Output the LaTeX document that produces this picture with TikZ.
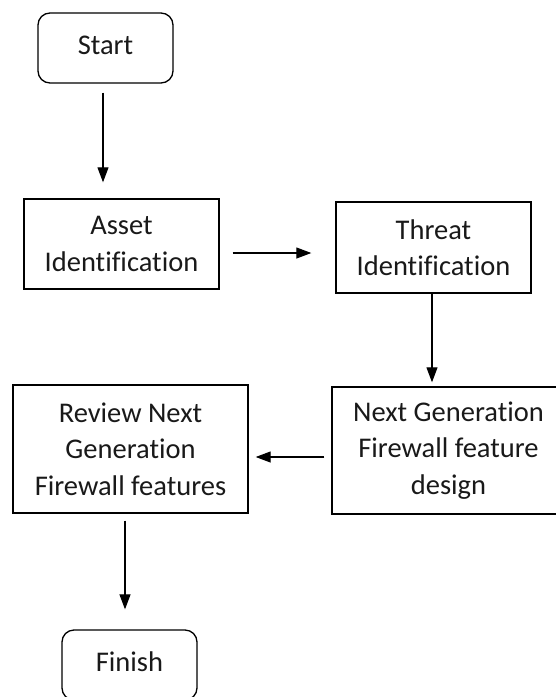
\documentclass[tikz,border=0pt]{standalone}
\usepackage{fontspec}
\setmainfont{Carlito}[Ligatures={NoCommon}]
\usetikzlibrary{arrows.meta}
\begin{document}
\begin{tikzpicture}[x=1pt,y=-1pt,
  every node/.style={font=\fontsize{28.5}{36.5}\selectfont, text=black!90, align=center, inner sep=0pt},
  procbox/.style={draw=black, line width=1.4pt, minimum width=#1, rectangle},
  termbox/.style={draw=black, line width=1.3pt, rounded corners=12pt, minimum width=135pt, minimum height=70pt},
  arr/.style={draw=black, line width=1.2pt, -{Triangle[length=15pt,width=11pt]}}
]
\useasboundingbox (0,0) rectangle (555,697);

% terminals
\node[termbox] (start) at (105.5,48) {\raisebox{5pt}{Start}};
\node[termbox] (finish) at (129.5,665) {\raisebox{7pt}{Finish}};

% process steps
\node[procbox=195pt, minimum height=90pt] (asset) at (121.5,244) {Asset\\Identification};
\node[procbox=195pt, minimum height=91pt] (threat) at (433.5,247.5) {Threat\\Identification};
\node[procbox=233pt, minimum height=127pt] (design) at (448.5,450.5) {Next Generation\\Firewall feature\\design};
\node[procbox=235pt, minimum height=128pt] (review) at (130.5,449) {Review Next\\Generation\\Firewall features};

% connectors
\draw[arr, shorten <=9pt, shorten >=16pt] ([xshift=-2.5pt]start.south) -- ([xshift=-2.5pt]start.south |- asset.north);
\draw[arr, shorten <=13pt, shorten >=24pt] ([yshift=-9pt]asset.east) -- ([yshift=-9pt]asset.east -| threat.west);
\draw[arr, shorten >=4pt] ([xshift=-1.5pt]threat.south) -- ([xshift=-1.5pt]threat.south |- design.north);
\draw[arr, shorten <=7pt, shorten >=7pt] ([yshift=-6.5pt]design.west) -- ([yshift=-6.5pt]design.west -| review.east);
\draw[arr, shorten <=7pt, shorten >=20pt] ([xshift=-5.5pt]review.south) -- ([xshift=-5.5pt]review.south |- finish.north);
\end{tikzpicture}
\end{document}
